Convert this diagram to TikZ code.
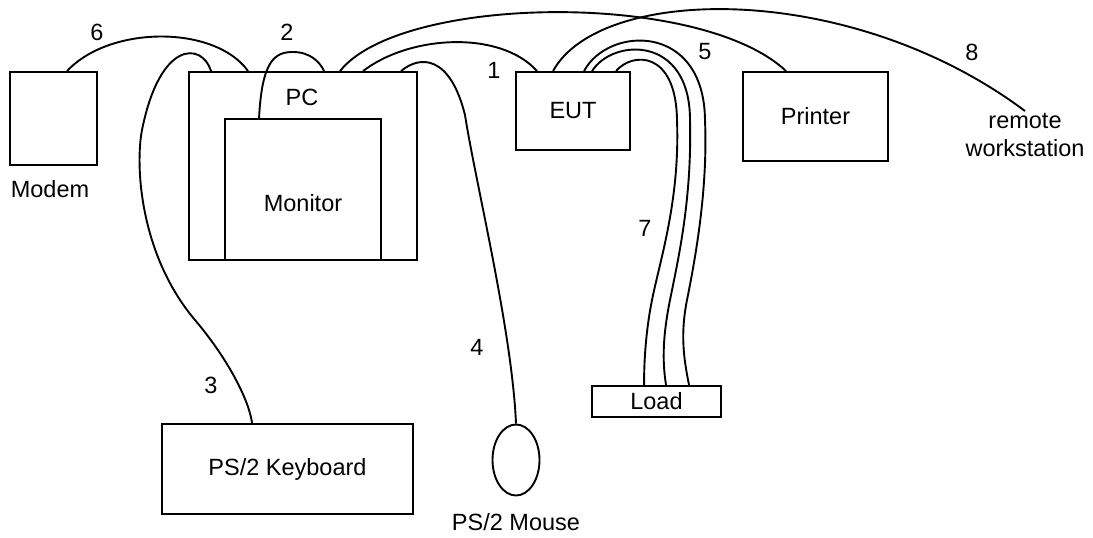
\documentclass[tikz,border=0pt]{standalone}
\usepackage{fontspec}
\setmainfont{Liberation Sans}
\usetikzlibrary{shapes.geometric}
\begin{document}
\begin{tikzpicture}[x=1pt,y=-1pt,
  every node/.style={font=\fontsize{23.5}{28.5}\selectfont},
  box/.style={draw, line width=1.9pt, rectangle, inner sep=0pt},
  txt/.style={inner sep=0pt},
  cable/.style={line width=1.9pt}]
\useasboundingbox (0,0) rectangle (1093,538);
% boxes
\node[box, minimum width=87pt, minimum height=93pt] (modem) at (53.5,118.5) {};
\node[box, minimum width=228pt, minimum height=188pt] (pc) at (303,166) {};
\node[box, minimum width=156pt, minimum height=141pt] (monitor) at (303,189.5) {};
\node[box, minimum width=114pt, minimum height=78pt] (eut) at (573,111) {EUT};
\node[box, minimum width=145pt, minimum height=89pt] (printer) at (815.5,116.5) {Printer};
\node[box, minimum width=251pt, minimum height=90pt] (kbd) at (287.5,469) {PS/2 Keyboard};
\node[box, minimum width=129pt, minimum height=31pt] (load) at (656.5,401.5) {Load};
\node[draw, line width=1.9pt, ellipse, inner sep=0pt, minimum width=47pt, minimum height=71pt] (mouse) at (516,460) {};
% labels
\node[txt] (tmodem) at (50,189) {Modem};
\node[txt] (tpc) at (302,97) {PC};
\node[txt] (tmonitor) at (303,203) {Monitor};
\node[txt] (tmouse) at (516,522) {PS/2 Mouse};
\node[txt, anchor=north, align=center] (rw) at (1025,108) {\strut remote\\workstation};
\node[txt] (n1) at (494,70) {1};
\node[txt] (n2) at (287,32) {2};
\node[txt] (n3) at (211,385) {3};
\node[txt] (n4) at (477,347) {4};
\node[txt] (n5) at (705,52) {5};
\node[txt] (n6) at (97,32) {6};
\node[txt] (n7) at (645,228) {7};
\node[txt] (n8) at (972,52) {8};
% cable 6: modem - PC
\draw[cable] ([xshift=58pt]modem.north west) .. controls (110,25) and (215,25) .. ([xshift=60pt]pc.north west);
% cable 3: PC - keyboard
\draw[cable] ([xshift=23pt]pc.north west) .. controls (202,42) and (160,40) .. (142,130)
  .. controls (135,166) and (140,255) .. (195,320)
  .. controls (228,359) and (249,400) .. ([xshift=91pt]kbd.north west);
% cable 2: monitor - PC
\draw[cable] ([xshift=35pt]monitor.north west) .. controls (262,60) and (275,52) .. (293,52)
  .. controls (310,52) and (320,62) .. ([xshift=136pt]pc.north west);
% cable 5: PC - printer
\draw[cable] ([xshift=152pt]pc.north west) .. controls (400,-5) and (700,-10) .. ([xshift=44pt]printer.north west);
% cable 1: PC - EUT
\draw[cable] ([xshift=175pt]pc.north west) .. controls (410,35) and (500,30) .. ([xshift=22pt]eut.north west);
% cable 4: PC - mouse
\draw[cable] ([xshift=213pt]pc.north west) .. controls (420,55) and (450,55) .. (465,115)
  .. controls (475,180) and (512,330) .. (mouse.north);
% cable 8: EUT - remote workstation
\draw[cable] ([xshift=38pt]eut.north west) .. controls (600,-15) and (850,-20) .. ([yshift=-3pt]rw.north);
% cable 7: EUT - load (three wires)
\draw[cable] ([xshift=69pt]eut.north west) .. controls (608,26) and (704,22) .. (705,120)
  .. controls (708,190) and (695,260) .. (687,300)
  .. controls (680,335) and (684,360) .. ([xshift=98pt]load.north west);
\draw[cable] ([xshift=77pt]eut.north west) .. controls (613,38) and (690,35) .. (690,120)
  .. controls (692,200) and (678,260) .. (670,300)
  .. controls (663,335) and (662,360) .. ([xshift=75pt]load.north west);
\draw[cable] ([xshift=101pt]eut.north west) .. controls (632,52) and (676,50) .. (677,120)
  .. controls (680,200) and (660,260) .. (652,300)
  .. controls (646,330) and (644,360) .. ([xshift=53pt]load.north west);
\end{tikzpicture}
\end{document}
